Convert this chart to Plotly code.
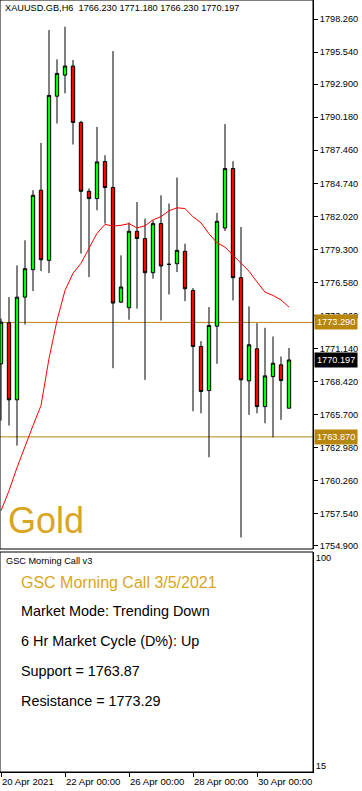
import plotly.graph_objects as go

# ---------------- data ----------------
dates = [
    "2021-04-20 00:00", "2021-04-20 06:00", "2021-04-20 12:00", "2021-04-20 18:00",
    "2021-04-21 00:00", "2021-04-21 06:00", "2021-04-21 12:00", "2021-04-21 18:00",
    "2021-04-22 00:00", "2021-04-22 06:00", "2021-04-22 12:00", "2021-04-22 18:00",
    "2021-04-23 00:00", "2021-04-23 06:00", "2021-04-23 12:00", "2021-04-23 18:00",
    "2021-04-26 00:00", "2021-04-26 06:00", "2021-04-26 12:00", "2021-04-26 18:00",
    "2021-04-27 00:00", "2021-04-27 06:00", "2021-04-27 12:00", "2021-04-27 18:00",
    "2021-04-28 00:00", "2021-04-28 06:00", "2021-04-28 12:00", "2021-04-28 18:00",
    "2021-04-29 00:00", "2021-04-29 06:00", "2021-04-29 12:00", "2021-04-29 18:00",
    "2021-04-30 00:00", "2021-04-30 06:00", "2021-04-30 12:00", "2021-04-30 18:00",
    "2021-05-03 00:00",
]
opens = [1769.88, 1773.26, 1766.92, 1775.37, 1777.63, 1784.17, 1778.40, 1791.91,
         1793.64, 1794.39, 1789.75, 1784.08, 1783.48, 1786.53, 1784.39, 1774.96,
         1774.50, 1780.79, 1780.19, 1777.38, 1781.42, 1778.07, 1778.12, 1779.14,
         1775.92, 1771.31, 1767.68, 1772.98, 1781.06, 1785.95, 1776.97, 1768.48,
         1771.12, 1766.36, 1768.83, 1769.80, 1766.230]
highs = [1773.60, 1775.37, 1777.98, 1780.05, 1784.17, 1788.06, 1797.35, 1794.94,
         1797.63, 1794.88, 1789.88, 1784.31, 1789.38, 1787.05, 1795.62, 1778.81,
         1781.50, 1783.20, 1781.83, 1781.69, 1783.75, 1783.07, 1785.21, 1779.77,
         1776.11, 1771.75, 1774.55, 1782.30, 1789.61, 1786.56, 1781.14, 1774.61,
         1773.23, 1772.85, 1772.13, 1770.48, 1771.180]
lows = [1765.21, 1764.80, 1763.15, 1773.12, 1775.87, 1777.51, 1777.35, 1789.66,
        1792.14, 1787.93, 1778.95, 1777.02, 1782.52, 1781.42, 1769.52, 1774.90,
        1773.51, 1774.42, 1768.56, 1776.89, 1773.45, 1775.59, 1777.43, 1775.04,
        1765.98, 1765.81, 1762.19, 1769.88, 1780.81, 1775.10, 1755.59, 1765.68,
        1765.81, 1764.99, 1763.83, 1765.27, 1766.230]
closes = [1773.31, 1766.92, 1775.37, 1777.71, 1783.75, 1778.45, 1791.97, 1793.78,
          1794.39, 1789.75, 1784.08, 1783.48, 1786.50, 1784.39, 1774.88, 1776.20,
          1780.79, 1780.19, 1777.38, 1781.42, 1777.93, 1778.07, 1779.22, 1776.06,
          1771.31, 1767.60, 1773.04, 1781.61, 1785.95, 1776.97, 1768.56, 1771.45,
          1766.36, 1768.89, 1769.93, 1768.51, 1770.197]
ma = [1757.79, 1759.44, 1761.34, 1763.15, 1764.80, 1766.45, 1770.32, 1773.45,
      1775.92, 1777.33, 1778.15, 1779.39, 1780.62, 1781.36, 1781.22, 1781.28,
      1781.42, 1781.06, 1781.24, 1781.73, 1782.00, 1782.48, 1782.72, 1782.66,
      1781.98, 1781.49, 1780.58, 1779.84, 1779.49, 1778.81, 1778.17, 1777.51,
      1776.62, 1775.78, 1775.51, 1775.14, 1774.55]

price_ticks = [1798.260, 1795.540, 1792.900, 1790.180, 1787.460, 1784.740, 1782.020,
               1779.300, 1776.580, 1773.860, 1771.140, 1768.420, 1765.700, 1762.980,
               1760.260, 1757.540, 1754.900]
x_tick_dates = ["2021-04-20 00:00", "2021-04-22 00:00", "2021-04-26 00:00",
                "2021-04-28 00:00", "2021-04-30 00:00"]
x_tick_labels = ["20 Apr 2021", "22 Apr 00:00", "26 Apr 00:00", "28 Apr 00:00", "30 Apr 00:00"]
sub_ticks = [15, 100]

symbol = "XAUUSD.GB,H6"
support = 1763.87
resistance = 1773.29
call_date = "3/5/2021"
market_mode = "Trending Down"
cycle = "Up"

# ---------------- figure ----------------
W, H = 362, 791
ML, MR, MT, MB = 0, 49, 0, 19
PH = H - MT - MB  # plot height in px


def py(p):
    return (PH - (p - MT)) / PH


GOLD = "#B8860B"
TXTGOLD = "#DAA520"
FONT = "Liberation Sans"
AXF = 9.2

fig = go.Figure()
fig.add_trace(go.Candlestick(
    x=dates, open=opens, high=highs, low=lows, close=closes,
    increasing=dict(line=dict(color="black", width=1), fillcolor="#00FF00"),
    decreasing=dict(line=dict(color="black", width=1), fillcolor="#FF0000"),
    whiskerwidth=0, hoverinfo="skip", xaxis="x", yaxis="y",
))
fig.add_trace(go.Scatter(
    x=dates, y=ma, mode="lines", line=dict(color="#FF0000", width=1),
    hoverinfo="skip", xaxis="x", yaxis="y",
))
fig.add_trace(go.Scatter(
    x=[dates[0]], y=[50], mode="markers", marker=dict(opacity=0),
    hoverinfo="skip", xaxis="x", yaxis="y2",
))

main_top, main_bot = 0, 549
sub_top, sub_bot = 552, 772
scale = 0.0823
y_top = 1798.26 + 19 * scale
y_bot = 1798.26 - (main_bot - 19) * scale

fig.update_layout(
    width=W, height=H,
    margin=dict(l=ML, r=MR, t=MT, b=MB, autoexpand=False),
    paper_bgcolor="white", plot_bgcolor="white",
    showlegend=False, boxgap=0.4,
    font=dict(family=FONT, size=10, color="black"),
    xaxis=dict(
        type="category", range=[-0.125, 39], anchor="y2", automargin=False,
        rangeslider=dict(visible=False), tickangle=0,
        showgrid=False, zeroline=False, showline=True, linecolor="black", linewidth=1,
        ticks="outside", ticklen=4, tickcolor="black",
        tickvals=x_tick_dates, ticktext=x_tick_labels,
        ticklabelposition="outside right", tickfont=dict(size=9.6, family=FONT),
    ),
    yaxis=dict(
        domain=[py(main_bot), 1], range=[y_bot, y_top], side="right", anchor="x",
        automargin=False,
        showgrid=False, zeroline=False, showline=True, linecolor="black", linewidth=1,
        ticks="outside", ticklen=4, tickcolor="black",
        tickvals=price_ticks, ticktext=[f"{v:.3f}" for v in price_ticks],
        tickfont=dict(size=AXF, family=FONT),
    ),
    yaxis2=dict(
        domain=[0, py(sub_top)], range=[15 - 6 * 85 / 208, 100 + 6 * 85 / 208],
        side="right", anchor="x", automargin=False,
        showgrid=False, zeroline=False, showline=True, linecolor="black", linewidth=1,
        ticks="", tickvals=sub_ticks, ticktext=[str(v) for v in sub_ticks],
        tickfont=dict(size=AXF, family=FONT),
    ),
)

shapes = [
    dict(type="rect", xref="paper", yref="paper", x0=0, x1=1, y0=py(main_bot), y1=1,
         line=dict(color="black", width=1), fillcolor="rgba(0,0,0,0)", layer="above"),
    dict(type="rect", xref="paper", yref="paper", x0=0, x1=1, y0=0, y1=py(sub_top),
         line=dict(color="black", width=1), fillcolor="rgba(0,0,0,0)", layer="above"),
    dict(type="line", xref="paper", yref="y", x0=0, x1=1, y0=resistance, y1=resistance,
         line=dict(color=GOLD, width=1), layer="below"),
    dict(type="line", xref="paper", yref="y", x0=0, x1=1, y0=support, y1=support,
         line=dict(color=GOLD, width=1), layer="below"),
]
fig.update_layout(shapes=shapes)

ann = []
header = f"{symbol}\u00a0\u00a0{opens[-1]:.3f} {highs[-1]:.3f} {lows[-1]:.3f} {closes[-1]:.3f}"
ann.append(dict(text=header, xref="paper", yref="paper", x=0, xshift=3, y=py(8),
                xanchor="left", yanchor="middle", showarrow=False,
                font=dict(size=AXF, family=FONT, color="black")))
ann.append(dict(text="Gold", xref="paper", yref="paper", x=0, xshift=6, y=py(520),
                xanchor="left", yanchor="middle", showarrow=False,
                font=dict(size=36, family=FONT, color=TXTGOLD)))
# price labels on axis
for val, bg in [(resistance, GOLD), (support, GOLD), (closes[-1], "black")]:
    ann.append(dict(text=f"{val:.3f}", xref="paper", yref="y", x=1, xshift=1, y=val,
                    xanchor="left", yanchor="middle", showarrow=False, bgcolor=bg,
                    borderpad=2, font=dict(size=AXF, family=FONT, color="white")))
# sub panel texts
ann.append(dict(text="GSC Morning Call v3", xref="paper", yref="paper", x=0, xshift=4,
                y=py(561), xanchor="left", yanchor="middle", showarrow=False,
                font=dict(size=AXF, family=FONT, color="black")))
lines = [
    (f"GSC Morning Call {call_date}", 582, TXTGOLD, 16),
    (f"Market Mode: {market_mode}", 611, "black", 14.4),
    (f"6 Hr Market Cycle (D%): {cycle}", 641, "black", 14.4),
    (f"Support = {support:.2f}", 671, "black", 14.4),
    (f"Resistance = {resistance:.2f}", 701, "black", 14.4),
]
for txt, yy, col, fs in lines:
    ann.append(dict(text=txt, xref="paper", yref="paper", x=0, xshift=19, y=py(yy),
                    xanchor="left", yanchor="middle", showarrow=False,
                    font=dict(size=fs, family=FONT, color=col)))
fig.update_layout(annotations=ann)

fig.write_html("out.html", config={"displayModeBar": False},
               post_script="document.body.style.margin='0';")
